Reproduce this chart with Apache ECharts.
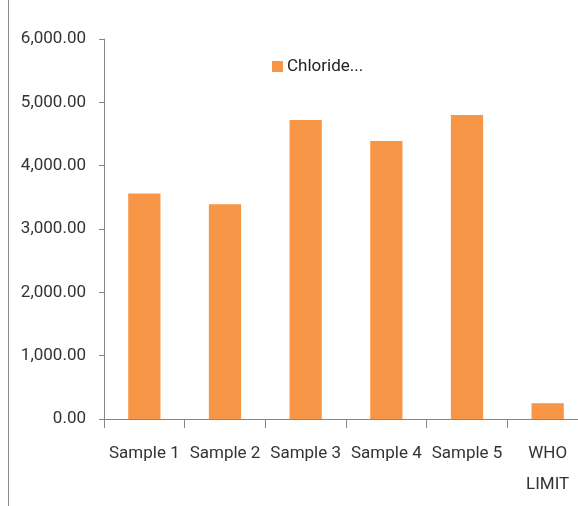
<!DOCTYPE html>
<html>
<head>
<meta charset="utf-8">
<script src="https://cdn.jsdelivr.net/npm/echarts@6/dist/echarts.min.js"></script>
<style>
  html, body { margin: 0; padding: 0; background: #ffffff; overflow: hidden; }
  #wrap { width: 578px; height: 506px; overflow: hidden; position: relative; }
  /* the plot area runs slightly past the right edge of the frame */
  #chart { width: 588px; height: 506px; }
</style>
</head>
<body>
<div id="wrap"><div id="chart"></div></div>
<script>
// Chloride concentration per sample, with the WHO guideline value
const categories = ['Sample 1', 'Sample 2', 'Sample 3', 'Sample 4', 'Sample 5', 'WHO\nLIMIT'];
const chlorideValues = [3560, 3390, 4720, 4390, 4800, 250];
const seriesName = 'Chloride...';
const yTickMin = 0;
const yTickMax = 6000;
const yTickStep = 1000;

const FONT = "Roboto, 'Open Sans', sans-serif";
const AXIS_GRAY = '#868686';
const TEXT_COLOR = '#333333';

const chart = echarts.init(document.getElementById('chart'), null, { renderer: 'canvas' });

chart.setOption({
  animation: false,
  backgroundColor: '#ffffff',
  textStyle: { fontFamily: FONT },
  grid: { left: 104, right: 0, top: 39, bottom: 87, containLabel: false },
  legend: {
    data: [seriesName],
    left: 272,
    top: 57,
    padding: 0,
    itemWidth: 11,
    itemHeight: 11,
    itemGap: 4,
    icon: 'rect',
    textStyle: { fontFamily: FONT, fontSize: 17, lineHeight: 19, color: '#222222', padding: [0, 0, 0, -1] }
  },
  xAxis: {
    type: 'category',
    data: categories,
    axisLine: { show: true, lineStyle: { color: AXIS_GRAY, width: 1 } },
    axisTick: { show: true, length: 9, lineStyle: { color: AXIS_GRAY } },
    axisLabel: {
      interval: 0,
      margin: 19,
      fontFamily: FONT,
      fontSize: 17,
      lineHeight: 31,
      color: TEXT_COLOR
    }
  },
  yAxis: {
    type: 'value',
    min: yTickMin,
    max: yTickMax,
    interval: yTickStep,
    axisLine: { show: true, lineStyle: { color: AXIS_GRAY, width: 1 } },
    axisTick: { show: true, length: 5, lineStyle: { color: AXIS_GRAY } },
    splitLine: { show: false },
    axisLabel: {
      margin: 18,
      fontFamily: FONT,
      fontSize: 17,
      color: TEXT_COLOR,
      formatter: v => v.toLocaleString('en-US', { minimumFractionDigits: 2, maximumFractionDigits: 2 })
    }
  },
  series: [{
    name: seriesName,
    type: 'bar',
    data: chlorideValues,
    barWidth: '40%',
    itemStyle: { color: '#f79646' }
  }],
  graphic: [{
    type: 'line',
    shape: { x1: 8.5, y1: 0, x2: 8.5, y2: 506 },
    style: { stroke: '#8c8c8c', lineWidth: 1 }
  }]
});
</script>
</body>
</html>
